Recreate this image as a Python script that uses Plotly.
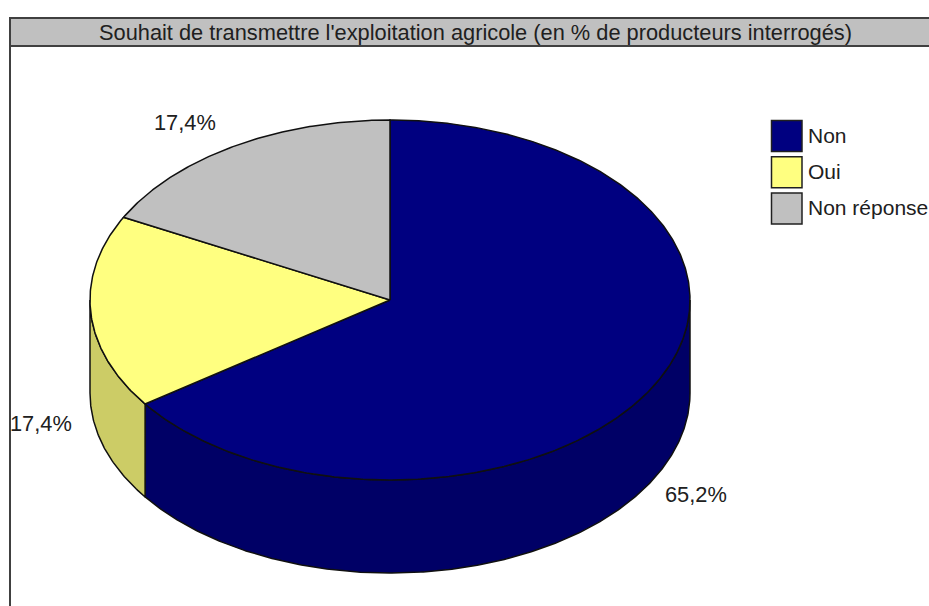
import numpy as np
import plotly.graph_objects as go

title = "Souhait de transmettre l'exploitation agricole (en % de producteurs interrogés)"
categories = ["Non", "Oui", "Non réponse"]
values = [65.2, 17.4, 17.4]
top_colors = ["#000080", "#FFFF80", "#C0C0C0"]
side_colors = ["#000066", "#CCCC66", "#9A9A9A"]
label_pos = [(696, 494), (41, 423), (185, 122)]

W, H = 929, 606
CX, CY, RX, RY, DEPTH = 390, 300, 300, 180, 93
EDGE = "#101010"
FONT = "Liberation Sans"


def rim(a0, a1, dy=0):
    t = np.radians(np.linspace(a0, a1, max(2, int(abs(a1 - a0) * 2) + 1)))
    return CX + RX * np.sin(t), CY + dy - RY * np.cos(t)


fig = go.Figure()
cum = np.cumsum([0] + values) / sum(values) * 360

# side walls (only the front half of the rim, from 90 to 270 degrees)
for i in range(len(values)):
    a0, a1 = max(cum[i], 90), min(cum[i + 1], 270)
    if a1 <= a0:
        continue
    x1, y1 = rim(a0, a1)
    x2, y2 = rim(a1, a0, DEPTH)
    fig.add_trace(go.Scatter(
        x=np.r_[x1, x2, x1[0]], y=np.r_[y1, y2, y1[0]], mode="lines", fill="toself",
        fillcolor=side_colors[i], line=dict(color=EDGE, width=1.5),
        showlegend=False, hoverinfo="skip"))

# top faces
for i in range(len(values)):
    x1, y1 = rim(cum[i], cum[i + 1])
    fig.add_trace(go.Scatter(
        x=np.r_[CX, x1, CX], y=np.r_[CY, y1, CY], mode="lines", fill="toself",
        fillcolor=top_colors[i], line=dict(color=EDGE, width=1.5),
        name=categories[i], showlegend=False, hoverinfo="name"))

# title bar and frame
shapes = [
    dict(type="rect", x0=10, x1=W + 5, y0=18, y1=46, fillcolor="#C0C0C0",
         line=dict(color="#404040", width=2), layer="below"),
    dict(type="line", x0=10, x1=10, y0=18, y1=H + 5, line=dict(color="#404040", width=2), layer="below"),
]
annotations = [dict(x=475, y=32, text=title, showarrow=False, xanchor="center", yanchor="middle",
                    font=dict(family=FONT, size=21.8, color="#202020"))]

# legend
for i, c in enumerate(categories):
    y0 = 120.5 + i * 36.3
    shapes.append(dict(type="rect", x0=771.5, x1=802, y0=y0, y1=y0 + 31, fillcolor=top_colors[i],
                       line=dict(color="#202020", width=1.5)))
    annotations.append(dict(x=806, y=y0 + 14.5, text=c, showarrow=False, xanchor="left", yanchor="middle",
                            font=dict(family=FONT, size=21, color="#202020")))

# value labels
for v, (lx, ly) in zip(values, label_pos):
    annotations.append(dict(x=lx, y=ly, text=f"{v:.1f}%".replace(".", ","), showarrow=False,
                            xanchor="center", yanchor="middle",
                            font=dict(family=FONT, size=21.8, color="#202020")))

fig.update_layout(
    width=W, height=H, margin=dict(l=0, r=0, t=0, b=0),
    paper_bgcolor="white", plot_bgcolor="white", showlegend=False,
    xaxis=dict(range=[0, W], visible=False, fixedrange=True),
    yaxis=dict(range=[H, 0], visible=False, fixedrange=True),
    shapes=shapes, annotations=annotations,
)
fig.write_html("out.html", config={"displayModeBar": False},
               post_script="document.body.style.margin='0';document.documentElement.style.overflow='hidden';")
